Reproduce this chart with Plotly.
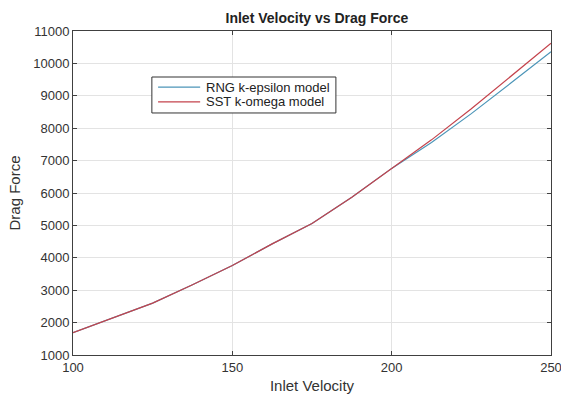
import plotly.graph_objects as go

velocity = [100, 112.5, 125, 137.5, 150, 162.5, 175, 187.5, 200, 212.5, 225, 237.5, 250]
rng_force = [1690, 2140, 2600, 3170, 3760, 4430, 5060, 5870, 6760, 7560, 8450, 9400, 10360]
sst_force = [1690, 2140, 2600, 3170, 3760, 4430, 5060, 5870, 6760, 7640, 8600, 9610, 10620]
series_names = ["RNG k-epsilon model", "SST k-omega model"]
series_colors = ["#4c95b8", "#c4434c"]

x_ticks = [100, 150, 200, 250]
y_ticks = [1000, 2000, 3000, 4000, 5000, 6000, 7000, 8000, 9000, 10000, 11000]

FONT = "Liberation Sans, Arial"

fig = go.Figure()
for name, vals, col in zip(series_names, [rng_force, sst_force], series_colors):
    fig.add_trace(go.Scatter(x=velocity, y=vals, mode="lines", name=name,
                             line=dict(color=col, width=1.2), showlegend=False))

axis_common = dict(showline=True, linecolor="#404040", linewidth=1, mirror="ticks",
                   ticks="inside", ticklen=4, tickcolor="#404040",
                   showgrid=True, gridcolor="#e3e3e3", gridwidth=1, zeroline=False,
                   ticklabeloverflow="allow", automargin=False,
                   tickfont=dict(family=FONT, size=13, color="#333333"))

fig.update_layout(
    width=561, height=394,
    margin=dict(l=73, r=10, t=31, b=39),
    paper_bgcolor="white", plot_bgcolor="white",
    title=dict(text="<b>Inlet Velocity vs Drag Force</b>", x=0.565, xanchor="center",
               y=0.955, yanchor="middle",
               font=dict(family=FONT, size=14, color="#222222")),
    xaxis=dict(range=[100, 250], tickvals=x_ticks, ticktext=[str(v) for v in x_ticks],
               title=dict(text="Inlet Velocity", standoff=6,
                          font=dict(family=FONT, size=15, color="#333333")),
               **axis_common),
    yaxis=dict(range=[1000, 11000], tickvals=y_ticks, ticktext=[str(v) for v in y_ticks],
               title=dict(text="Drag Force", standoff=8,
                          font=dict(family=FONT, size=15, color="#333333")),
               **axis_common),
    showlegend=False,
)

# Legend box (MATLAB style)
box_x0, box_x1, box_y0, box_y1 = 0.165, 0.550, 0.747, 0.858
fig.add_shape(type="rect", xref="paper", yref="paper", x0=box_x0, x1=box_x1, y0=box_y0, y1=box_y1,
              line=dict(color="#333333", width=1), fillcolor="white", layer="above")
row_y = [0.827, 0.781]
for name, col, yy in zip(series_names, series_colors, row_y):
    fig.add_shape(type="line", xref="paper", yref="paper", x0=0.178, x1=0.266, y0=yy, y1=yy,
                  line=dict(color=col, width=1.2), layer="above")
    fig.add_annotation(xref="paper", yref="paper", x=0.274, y=yy, text=name, showarrow=False,
                       xanchor="left", yanchor="middle",
                       font=dict(family=FONT, size=13, color="#222222"))

fig.write_html("out.html")
